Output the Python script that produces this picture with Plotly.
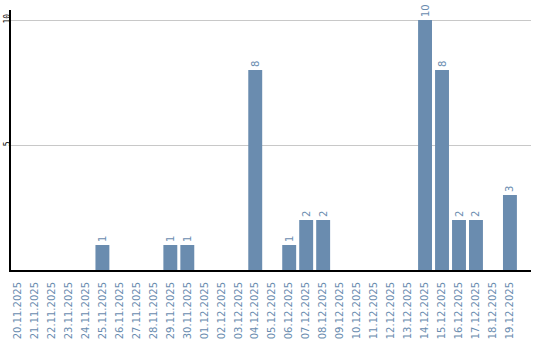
import plotly.graph_objects as go

dates = ["20.11.2025", "21.11.2025", "22.11.2025", "23.11.2025", "24.11.2025",
         "25.11.2025", "26.11.2025", "27.11.2025", "28.11.2025", "29.11.2025",
         "30.11.2025", "01.12.2025", "02.12.2025", "03.12.2025", "04.12.2025",
         "05.12.2025", "06.12.2025", "07.12.2025", "08.12.2025", "09.12.2025",
         "10.12.2025", "11.12.2025", "12.12.2025", "13.12.2025", "14.12.2025",
         "15.12.2025", "16.12.2025", "17.12.2025", "18.12.2025", "19.12.2025"]
values = [0, 0, 0, 0, 0, 1, 0, 0, 0, 1,
          1, 0, 0, 0, 8, 0, 1, 2, 2, 0,
          0, 0, 0, 0, 10, 8, 2, 2, 0, 3]
texts = [str(v) if v else "" for v in values]

blue = "#6a8caf"

fig = go.Figure(go.Bar(
    x=dates, y=values, text=texts, textposition="outside",
    textangle=-90, cliponaxis=False,
    textfont=dict(color=blue, size=10, family="DejaVu Sans"),
    marker=dict(color=blue, line=dict(width=0)),
))

fig.update_layout(
    width=540, height=340,
    margin=dict(l=11, r=9, t=10, b=70),
    paper_bgcolor="white", plot_bgcolor="white",
    bargap=0.18, showlegend=False,
    font=dict(family="DejaVu Sans"),
)
fig.update_xaxes(
    type="category", range=[-0.383, 30.24], automargin=False,
    tickangle=-90, tickfont=dict(color=blue, size=10),
    showline=True, linecolor="black", linewidth=2,
    showgrid=False, ticks="", ticklabelstandoff=6,
)
fig.update_yaxes(
    range=[0, 10.4], tickvals=[5, 10], ticktext=["5", "10"], automargin=False,
    tickangle=-90, tickfont=dict(color="black", size=8, family="DejaVu Sans Mono"),
    showline=True, linecolor="black", linewidth=2,
    showgrid=True, gridcolor="#c8c8c8", gridwidth=1,
    zeroline=False, ticks="", ticklabelstandoff=-4,
)

fig.write_html("out.html")
